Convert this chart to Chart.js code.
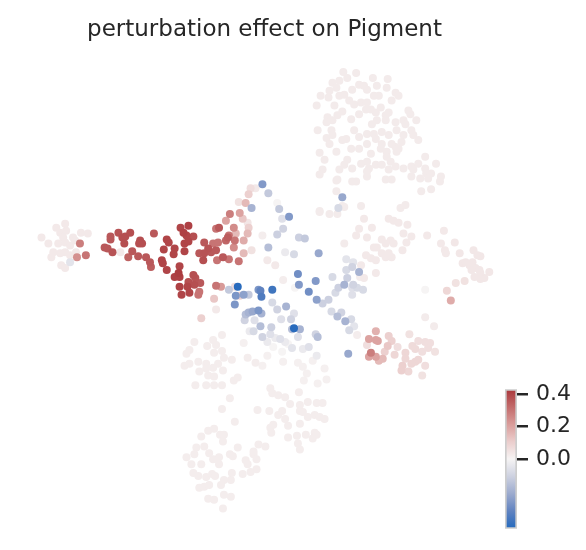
<!DOCTYPE html>
<html><head><meta charset="utf-8">
<script src="https://cdn.jsdelivr.net/npm/chart.js@4/dist/chart.umd.min.js"></script>
<style>
html,body{margin:0;padding:0;background:#fff;overflow:hidden;width:586px;height:550px}
#wrap{position:relative;width:586px;height:550px}
#title{position:absolute;left:0;top:16.5px;width:529px;text-align:center;font-family:"DejaVu Sans",sans-serif;font-size:23px;line-height:23px;color:#262626;white-space:nowrap}
#main{position:absolute;left:0;top:0}
#cb{position:absolute;left:480px;top:368px}
</style></head><body>
<div id="wrap">
<canvas id="main" width="586" height="550"></canvas>
<div id="title">perturbation effect on Pigment</div>
<canvas id="cb" width="106" height="182"></canvas>
</div>
<script>
// Embedding coordinates: [x, y, perturbation effect]
const topCluster = [
[344,69,0.025],[357,70,0.025],[333,80,0.025],[340,78,0.025],[348,75,0.025],[374,75,0.025],[389,76,0.025],[337,85,0.025],[330,88,0.025],[321,93,0.025],
[329,95,0.025],[340,93,0.025],[345,92,0.025],[353,87,0.025],[360,82,0.025],[365,83,0.025],[368,87,0.025],[378,83,0.025],[388,85,0.025],[380,93,0.025],
[375,93,0.025],[397,90,0.025],[400,93,0.025],[393,98,0.025],[350,98,0.025],[355,102,0.025],[362,100,0.025],[368,100,0.025],[317,103,0.025],[335,103,0.025],
[343,109,0.025],[360,112,0.025],[367,107,0.025],[372,107,0.025],[377,110,0.025],[382,105,0.025],[390,110,0.025],[387,113,0.025],[410,108,0.025],[412,112,0.025],
[328,115,0.025],[338,113,0.025],[327,120,0.025],[333,118,0.025],[352,117,0.025],[373,122,0.025],[378,118,0.025],[387,118,0.025],[397,120,0.025],[405,118,0.025],
[418,118,0.025],[407,122,0.025],[318,128,0.025],[332,128,0.025],[327,136,0.025],[333,133,0.025],[343,138,0.025],[347,137,0.025],[355,128,0.025],[368,132,0.025],
[375,132,0.025],[383,130,0.025],[390,133,0.025],[398,128,0.025],[405,133,0.025],[415,133,0.025],[420,138,0.025],[413,128,0.025],[330,142,0.025],[360,135,0.025],
[368,142,0.025],[377,137,0.025],[383,142,0.025],[393,142,0.025],[397,145,0.025],[403,140,0.025],[320,151,0.025],[337,150,0.025],[352,147,0.025],[360,147,0.025],
[372,152,0.025],[382,147,0.025],[388,150,0.025],[398,150,0.025],[400,147,0.025],[325,158,0.025],[348,158,0.025],[345,163,0.025],[353,167,0.025],[362,162,0.025],
[368,160,0.025],[377,163,0.025],[388,155,0.025],[392,160,0.025],[383,163,0.025],[405,167,0.025],[413,165,0.025],[420,162,0.025],[427,155,0.025],[438,162,0.025],
[323,168,0.025],[340,168,0.025],[368,170,0.025],[370,167,0.025],[390,168,0.025],[397,165,0.025],[415,168,0.025],[427,167,0.025],[428,172,0.025],[433,172,0.025],
[443,175,0.025],[442,180,0.025],[320,173,0.025],[338,178,0.025],[353,180,0.025],[368,175,0.025],[387,178,0.025],[393,178,0.025],[413,175,0.025],[422,177,0.025],
[430,177,0.025],[423,190,0.025],[433,188,0.025],[337,190,0.025],[345,206,0.025],[362,205,0.025],[402,207,0.025],[407,204,0.025],[320,210,0.025],
[343,196,-0.22],[339,207,-0.08]
];
const leftArm = [
[38,237,0.03],[45,243,0.03],[53,227,0.03],[62,223,0.03],[57,232,0.03],[63,230,0.03],[70,237,0.03],[60,237,0.03],[55,243,0.03],[62,242,0.03],
[67,245,0.03],[50,252,0.03],[48,257,0.03],[57,253,0.03],[62,252,0.03],[67,255,0.03],[58,265,0.03],[62,268,0.03],[67,262,-0.05],[72,240,0.03],
[78,232,0.03],[85,233,0.03],[73,252,0.03],[77,243,0.28],[74,257,0.24],[83,255,0.3],
[108,236,0.36],[108,239,0.36],[116,232,0.37],[120,237,0.38],[123,236,0.38],[128,232,0.38],[122,243,0.38],[102,247,0.36],[105,248,0.36],[110,252,0.37],
[118,252,0.03],[130,251,0.36],[126,257,0.34],[136,256,0.36],[138,240,0.38],[140,243,0.38],[137,243,0.38],[144,257,0.36],[148,262,0.36],[149,267,0.35],
[152,233,0.36],[162,249,0.4],[165,239,0.4],[167,242,0.4],[173,248,0.4],[172,254,0.4],[160,260,0.4],[161,263,0.4],[165,270,0.4],[179,227,0.4],
[182,232,0.41],[187,225,0.41],[185,235,0.4],[183,243,0.4],[187,241,0.4],[183,251,0.4],[192,236,0.38],[178,266,0.4],[177,273,0.42],[173,277,0.41],
[178,277,0.41],[192,275,0.38],[194,278,0.37],[187,282,0.38],[199,283,0.36],[178,287,0.41],[186,287,0.4],[193,285,0.38],[188,293,0.4],[180,295,0.4],
[197,295,0.3],[198,292,0.3],[198,253,0.36],[203,242,0.36],[207,248,0.37],[203,253,0.37],[210,252,0.36],[215,250,0.36],[202,260,0.38],[212,243,0.3],
[217,242,0.3],[216,260,0.3],[222,257,0.36],[228,259,0.3],[225,240,0.33],[227,237,0.35],[228,235,0.3],[234,240,0.3],[238,261,0.3],[233,247,0.25],
[215,228,0.3],[218,227,0.36],[225,220,0.2],[229,213,0.28],[239,212,0.2],[242,218,0.12],[233,227,0.25],[243,240,0.18],[247,233,0.15],[248,227,0.1],
[243,253,0.15],[251,250,0.05],[250,187,0.06],[248,193,0.1],[238,201,0.05],[245,202,0.15],[251,207,-0.19],[247,222,0.04],[235,233,0.15],
[215,286,0.3],[220,287,0.22],[228,290,-0.13],[234,287,0.06],[237,287,-0.42],[235,296,-0.27],[239,296,0.1],[243,295,-0.24],[248,295,-0.13],[258,290,-0.27],
[213,299,0.12],[234,305,-0.27],[200,319,0.1],[215,310,0.03]
];
const centerGroup = [
[262,183,-0.26],[268,192,-0.13],[255,187,0.03],[279,208,-0.13],[277,202,0.0],[282,218,-0.06],[289,216,-0.26],[283,228,-0.1],[277,234,-0.11],[268,247,-0.16],
[299,237,-0.11],[305,238,-0.13],[285,252,-0.03],[294,254,-0.08],[319,253,-0.22],[262,235,0.02],[275,265,0.03],[267,260,0.03],[298,274,-0.29],[299,285,-0.26],
[316,281,-0.26],[309,292,-0.29],[317,300,-0.24],[323,304,-0.11],[329,300,-0.11],[333,277,-0.08],[336,293,-0.08],[339,288,-0.11],[345,285,-0.19],[347,270,-0.08],
[347,259,-0.05],[353,267,-0.1],[360,272,-0.19],[348,278,-0.11],[354,285,-0.1],[358,288,-0.08],[364,290,-0.08],[353,295,-0.06],[295,288,0.0],[283,280,0.02],
[272,290,-0.38],[260,291,-0.32],[261,297,-0.35],[245,315,-0.16],[244,321,-0.1],[248,313,-0.19],[252,312,-0.22],[258,311,-0.27],[261,314,-0.19],[254,321,-0.06],
[272,303,-0.08],[277,310,-0.1],[286,307,-0.19],[294,314,-0.06],[291,320,-0.1],[281,320,-0.06],[271,328,-0.11],[260,327,-0.16],[253,332,-0.08],[249,332,-0.03],
[262,338,-0.1],[270,335,-0.06],[275,339,-0.03],[280,340,-0.06],[292,330,-0.16],[294,329,-0.42],[300,330,-0.19],[298,338,-0.06],[288,345,0.0],[292,349,-0.05],
[303,350,-0.03],[309,348,-0.06],[316,335,-0.1],[318,338,-0.16],[317,357,-0.03],[267,343,-0.03],[273,348,0.0],[282,353,0.0],[285,343,-0.03],[332,312,-0.08],
[338,317,-0.16],[342,313,-0.1],[346,322,-0.19],[352,320,-0.08],[355,327,-0.05],[350,331,-0.08],[349,355,-0.22],[357,180,0.025],[337,179,0.025],[320,211,0.025],
[330,213,0.025],[338,213,0.025],[343,205,0.025],[365,218,0.03],[373,227,0.03],[360,228,0.03],[357,235,0.03],[368,237,0.03],[375,247,0.03],[367,255,0.03],
[372,258,0.03],[362,265,0.03],[377,273,0.03],[345,243,0.025],[354,262,-0.05],[353,288,-0.06],[361,277,0.02],[365,278,0.03],[358,336,0.02]
];
const rightGroup = [
[390,218,0.03],[395,220,0.03],[400,222,0.03],[409,224,0.03],[405,233,0.03],[413,236,0.03],[392,240,0.03],[395,243,0.03],[408,242,0.03],[387,243,0.03],
[383,239,0.03],[390,253,0.03],[383,253,0.03],[387,257,0.03],[393,257,0.03],[404,250,0.03],[378,247,0.03],[377,260,0.03],[429,235,0.03],[446,230,0.03],
[443,243,0.03],[447,250,0.03],[448,253,0.03],[457,242,0.035],[462,253,0.035],[465,263,0.035],[468,262,0.035],[472,265,0.035],[475,262,0.035],[478,268,0.035],
[474,270,0.035],[482,270,0.035],[483,273,0.035],[477,277,0.035],[476,250,0.035],[480,255,0.035],[483,256,0.035],[492,272,0.035],[487,278,0.035],[483,279,0.035],
[467,281,0.05],[458,283,0.05],[449,291,0.08],[453,301,0.18],[427,290,0.0],[427,318,0.025],[436,327,0.025],
[411,335,0.05],[420,342,0.06],[427,343,0.06],[432,344,0.06],[430,349,0.06],[437,353,0.05],[424,353,0.06],[417,350,0.07],[414,347,0.07],[417,363,0.08],
[420,361,0.08],[427,367,0.06],[424,377,0.05],[413,365,0.08],[407,354,0.08],[407,360,0.08],[404,367,0.1],[403,372,0.1],[410,373,0.08],[399,348,0.06],
[396,356,0.08],[393,342,0.1],[390,337,0.1],[389,347,0.12],[386,353,0.1],[384,360,0.15],[380,362,0.15],[377,332,0.17],[370,340,0.2],[377,341,0.2],
[379,342,0.2],[372,354,0.28],[377,358,0.2],[370,358,0.2],[368,346,0.06]
];
const bottomGroup = [
[221,336,0.02],[212,341,0.02],[206,347,0.02],[215,346,0.02],[193,343,0.02],[188,351,0.02],[185,355,0.02],[183,367,0.02],[188,365,0.02],[197,363,0.02],
[205,365,0.02],[213,354,0.02],[221,352,0.02],[223,359,0.02],[217,365,0.02],[222,372,0.02],[212,369,0.02],[205,370,0.02],[198,373,0.02],[207,377,0.02],
[213,378,0.02],[231,361,0.02],[233,382,0.02],[237,379,0.02],[194,387,0.02],[205,387,0.02],[213,387,0.02],[221,387,0.02],[243,344,0.01],[247,359,0.02],
[255,364,0.02],[229,400,0.02],[221,411,0.02],[234,424,0.02],[213,431,0.02],[207,433,0.02],[200,439,0.02],[219,437,0.02],[223,437,0.02],[222,444,0.02],
[195,450,0.02],[203,449,0.02],[208,456,0.02],[212,462,0.02],[218,467,0.02],[218,460,0.02],[229,457,0.02],[232,459,0.02],[237,450,0.02],[185,460,0.02],
[193,457,0.02],[190,467,0.02],[200,467,0.02],[192,476,0.02],[197,479,0.02],[205,480,0.02],[211,477,0.02],[214,479,0.02],[231,476,0.02],[242,477,0.02],
[245,463,0.02],[247,467,0.02],[253,457,0.02],[256,462,0.02],[253,454,0.02],[258,447,0.02],[265,449,0.02],[256,472,0.02],[250,475,0.02],[223,483,0.02],
[230,483,0.02],[220,488,0.02],[198,491,0.02],[203,490,0.02],[208,488,0.02],[207,502,0.02],[213,503,0.02],[223,498,0.02],[230,500,0.02],[222,512,0.02],
[270,390,0.02],[272,395,0.02],[278,397,0.02],[285,399,0.02],[257,412,0.02],[269,413,0.02],[282,413,0.02],[278,417,0.02],[290,406,0.02],[300,407,0.02],
[308,404,0.02],[317,405,0.02],[323,405,0.02],[299,394,0.02],[300,413,0.02],[303,414,0.02],[308,419,0.02],[315,417,0.02],[320,419,0.02],[325,421,0.02],
[285,421,0.02],[288,428,0.02],[270,430,0.02],[273,427,0.02],[271,435,0.02],[300,426,0.02],[306,437,0.02],[297,438,0.02],[288,440,0.02],[298,446,0.02],
[300,452,0.02],[313,441,0.02],[315,435,0.02],[317,437,0.02],[262,367,0.01],[267,357,0.01],[283,363,0.01],[298,364,0.01],[303,368,0.01],[307,375,0.01],
[313,362,0.01],[325,370,0.01],[327,381,0.01],[318,385,0.01],[304,382,0.01]
];
// Plot extents (embedding frame) and colour bar
const plotX = [0, 586];
const plotY = [0, 550];
const cbMin = -0.43, cbMax = 0.43;
const cbTicks = [0.0, 0.2, 0.4];

// vlag-like diverging colour map
const cmapStops = [
[0.00,35,105,189],[0.125,95,130,192],[0.25,155,170,206],[0.375,205,209,224],[0.5,246,244,244],
[0.625,235,205,204],[0.75,217,156,154],[0.875,194,106,106],[1.0,169,55,59]
];
function cmap(t){
  t = Math.max(0, Math.min(1, t));
  for (let i = 1; i < cmapStops.length; i++) {
    const a = cmapStops[i-1], b = cmapStops[i];
    if (t <= b[0]) {
      const f = (t - a[0]) / (b[0] - a[0]);
      const c = [1,2,3].map(k => Math.round(a[k] + (b[k]-a[k])*f));
      return `rgb(${c[0]},${c[1]},${c[2]})`;
    }
  }
  const l = cmapStops[cmapStops.length-1];
  return `rgb(${l[1]},${l[2]},${l[3]})`;
}
const colorFor = v => cmap((v - cbMin) / (cbMax - cbMin));

const cells = [].concat(topCluster, leftArm, centerGroup, rightGroup, bottomGroup)
  .sort((a, b) => Math.abs(a[2]) - Math.abs(b[2]));

new Chart(document.getElementById('main'), {
  type: 'scatter',
  data: { datasets: [{
    data: cells.map(p => ({x: p[0], y: p[1]})),
    pointBackgroundColor: cells.map(p => colorFor(p[2])),
    pointBorderWidth: 0, pointRadius: 4, pointHoverRadius: 4
  }]},
  options: {
    responsive: false, animation: false, clip: false,
    layout: { padding: 0 },
    plugins: { legend: {display: false}, tooltip: {enabled: false} },
    scales: {
      x: { type: 'linear', min: plotX[0], max: plotX[1], display: false },
      y: { type: 'linear', min: plotY[0], max: plotY[1], reverse: true, display: false }
    }
  }
});

new Chart(document.getElementById('cb'), {
  type: 'bar',
  data: { labels: [''], datasets: [{
    data: [[cbMin, cbMax]],
    backgroundColor: (c) => {
      const ch = c.chart; if (!ch.chartArea) return '#fff';
      const ys = ch.scales.y;
      const g = ch.ctx.createLinearGradient(0, ys.getPixelForValue(cbMin), 0, ys.getPixelForValue(cbMax));
      cmapStops.forEach(s => g.addColorStop(s[0], `rgb(${s[1]},${s[2]},${s[3]})`));
      return g;
    },
    borderColor: '#cdcdcd', borderWidth: 2, borderSkipped: false,
    barPercentage: 1, categoryPercentage: 1
  }]},
  options: {
    responsive: false, animation: false,
    layout: { padding: { left: 25, top: 20, bottom: 15, right: 0 } },
    plugins: { legend: {display: false}, tooltip: {enabled: false} },
    scales: {
      x: { display: false },
      y: {
        position: 'right', min: cbMin, max: cbMax,
        afterBuildTicks: s => { s.ticks = cbTicks.map(v => ({value: v})); },
        afterFit: s => { s.width = 69; },
        grid: { drawOnChartArea: false, drawTicks: true, tickLength: 11, tickWidth: 2.5, tickColor: '#262626', lineWidth: 2.5, color: '#262626' },
        border: { display: false },
        ticks: { font: { family: 'DejaVu Sans', size: 22 }, color: '#262626', padding: 8, callback: v => Number(v).toFixed(1) }
      }
    }
  }
});
</script>
</body></html>
